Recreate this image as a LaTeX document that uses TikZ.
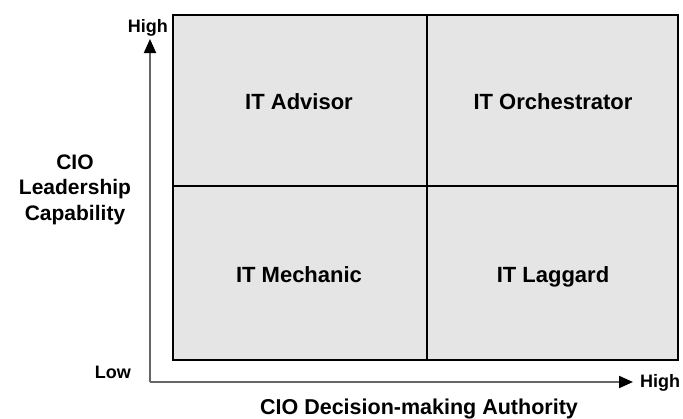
\documentclass[tikz,border=0pt]{standalone}
\usepackage{fontspec}
\setmainfont{Liberation Sans}
\usetikzlibrary{arrows.meta}
\begin{document}
\begin{tikzpicture}[x=1pt,y=-1pt,
  cell/.style={draw=black,line width=2pt,fill=gray!20},
  quad/.style={font=\bfseries\fontsize{22}{26}\selectfont,anchor=base,inner sep=0pt},
  axis/.style={draw=black!60,line width=2pt,-{Triangle[length=14pt,width=12pt,black]}},
  tick/.style={font=\bfseries\fontsize{18}{20}\selectfont,inner sep=0pt},
  title/.style={font=\bfseries\fontsize{21}{25.5}\selectfont,align=center,inner sep=0pt}]
\useasboundingbox (0,0) rectangle (683,418);
% the four quadrants
\draw[cell] (173,15) rectangle (427,186);
\draw[cell] (427,15) rectangle (678,186);
\draw[cell] (173,186) rectangle (427,360);
\draw[cell] (427,186) rectangle (678,360);
\node[quad] (adv) at (299,109) {IT Advisor};
\node[quad] (orc) at (553,109) {IT Orchestrator};
\node[quad] (mec) at (299,282) {IT Mechanic};
\node[quad] (lag) at (553,282) {IT Laggard};
% axes
\coordinate (origin) at (150,382);
\coordinate (ytip) at (150,39);
\coordinate (xtip) at (633,382);
\draw[axis] (origin) -- (ytip);
\draw[axis] (origin) -- (xtip);
\node[tick,anchor=base east] (yhigh) at (168,32) {High};
\node[tick,anchor=base east] (ylow) at (131,378) {Low};
\node[tick,anchor=base west] (xhigh) at (640,387) {High};
% the base anchor of a multi-line node sits on its last line
\node[title,anchor=base] (ytitle) at (75,220) {CIO\\Leadership\\Capability};
\node[title,anchor=base,font=\bfseries\fontsize{21.5}{25}\selectfont] (xtitle) at (419,414) {CIO Decision-making Authority};
\end{tikzpicture}
\end{document}
